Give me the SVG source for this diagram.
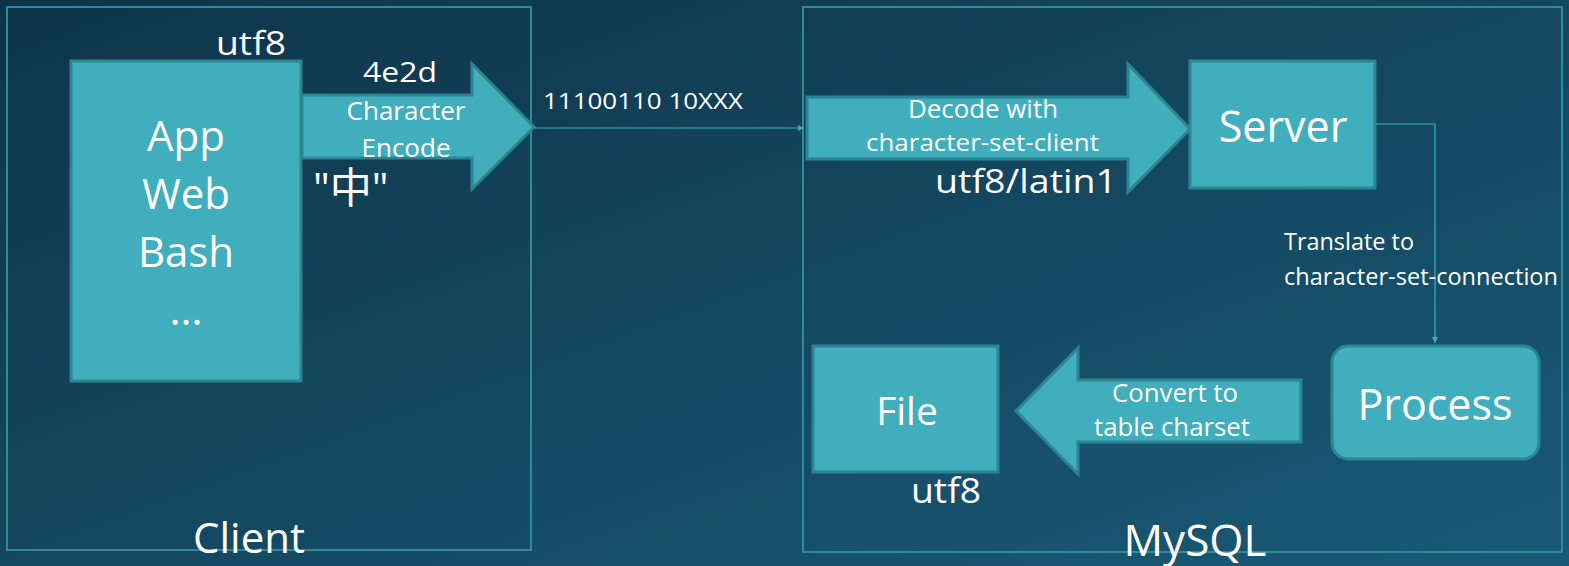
<svg xmlns="http://www.w3.org/2000/svg" width="1569" height="566" viewBox="0 0 1569 566">
<defs>
<linearGradient id="bg" x1="0" y1="0" x2="1" y2="1">
<stop offset="0" stop-color="#0e3449"/>
<stop offset="1" stop-color="#195a76"/>
</linearGradient>
<marker id="ah" markerWidth="8" markerHeight="8" refX="6" refY="3" orient="auto" markerUnits="userSpaceOnUse">
<path d="M0,0 L6,3 L0,6 z" fill="#3fb0c2"/>
</marker>
<style>
.cont{fill:none;stroke:#2f8b97;stroke-width:2}
.box{fill:#41aebd;stroke:#2b8592;stroke-width:3}
.arr{fill:#41aebd;stroke:#2b8592;stroke-width:3;stroke-linejoin:miter}
.conn{fill:none;stroke:#3fb0c2;stroke-width:1.2}
text{fill:#ffffff;font-family:"Open Sans","Noto Sans","Noto Sans CJK SC",sans-serif}
.c{text-anchor:middle}
</style>
</defs>
<rect width="1569" height="566" fill="url(#bg)"/>
<g id="client">
<rect class="cont" x="7" y="7" width="524" height="543"/>
<text class="c" x="249" y="553" font-size="42">Client</text>
</g>
<g id="mysql">
<rect class="cont" x="803" y="7" width="759" height="545"/>
<text class="c" x="1195" y="556" font-size="44">MySQL</text>
</g>
<g id="app">
<rect class="box" x="71" y="61" width="230" height="320"/>
<text class="c" x="186" y="151" font-size="42">App</text>
<text class="c" x="186" y="209" font-size="42">Web</text>
<text class="c" x="186" y="267" font-size="42">Bash</text>
<text class="c" x="186" y="325" font-size="42">...</text>
<text x="216" y="55" font-size="32" textLength="70" lengthAdjust="spacingAndGlyphs">utf8</text>
</g>
<g id="encode-arrow">
<path class="arr" d="M302,95 L472,95 L472,64 L534,127 L472,189 L472,158 L302,158 Z"/>
<text x="363" y="82" font-size="28" textLength="74" lengthAdjust="spacingAndGlyphs">4e2d</text>
<text class="c" x="406" y="120" font-size="26">Character</text>
<text class="c" x="406" y="157" font-size="26">Encode</text>
<text x="313" y="203" font-size="42">"中"</text>
</g>
<g id="decode-arrow">
<path class="arr" d="M807,97 L1128,97 L1128,64 L1190,129 L1128,192 L1128,159 L807,159 Z"/>
<text x="908" y="118" font-size="25" textLength="150" lengthAdjust="spacingAndGlyphs">Decode with</text>
<text x="866" y="151" font-size="24" textLength="233" lengthAdjust="spacingAndGlyphs">character-set-client</text>
<text x="935" y="193" font-size="33" textLength="182" lengthAdjust="spacingAndGlyphs">utf8/latin1</text>
</g>
<g id="server">
<rect class="box" x="1190" y="61" width="185" height="127"/>
<text class="c" x="1283" y="142" font-size="43">Server</text>
</g>
<g id="process">
<rect class="box" x="1332" y="346" width="207" height="113" rx="16"/>
<text class="c" x="1435" y="420" font-size="43">Process</text>
</g>
<g id="file">
<rect class="box" x="813" y="346" width="185" height="126"/>
<text class="c" x="907" y="425" font-size="39">File</text>
<text x="911" y="503" font-size="34" textLength="70" lengthAdjust="spacingAndGlyphs">utf8</text>
</g>
<g id="convert-arrow">
<path class="arr" d="M1301,380 L1078,380 L1078,348 L1016,411 L1078,474 L1078,442 L1301,442 Z"/>
<text x="1112" y="402" font-size="25" textLength="126" lengthAdjust="spacingAndGlyphs">Convert to</text>
<text x="1094" y="436" font-size="25" textLength="156" lengthAdjust="spacingAndGlyphs">table charset</text>
</g>
<g id="connectors">
<line class="conn" x1="535" y1="128" x2="804" y2="128" marker-end="url(#ah)"/>
<text x="543" y="109" font-size="22" textLength="200" lengthAdjust="spacingAndGlyphs">11100110 10XXX</text>
<polyline class="conn" points="1376,124 1435,124 1435,343" marker-end="url(#ah)"/>
<text x="1284" y="250" font-size="23" textLength="130" lengthAdjust="spacingAndGlyphs">Translate to</text>
<text x="1284" y="285" font-size="23" textLength="274" lengthAdjust="spacingAndGlyphs">character-set-connection</text>
</g>
</svg>
